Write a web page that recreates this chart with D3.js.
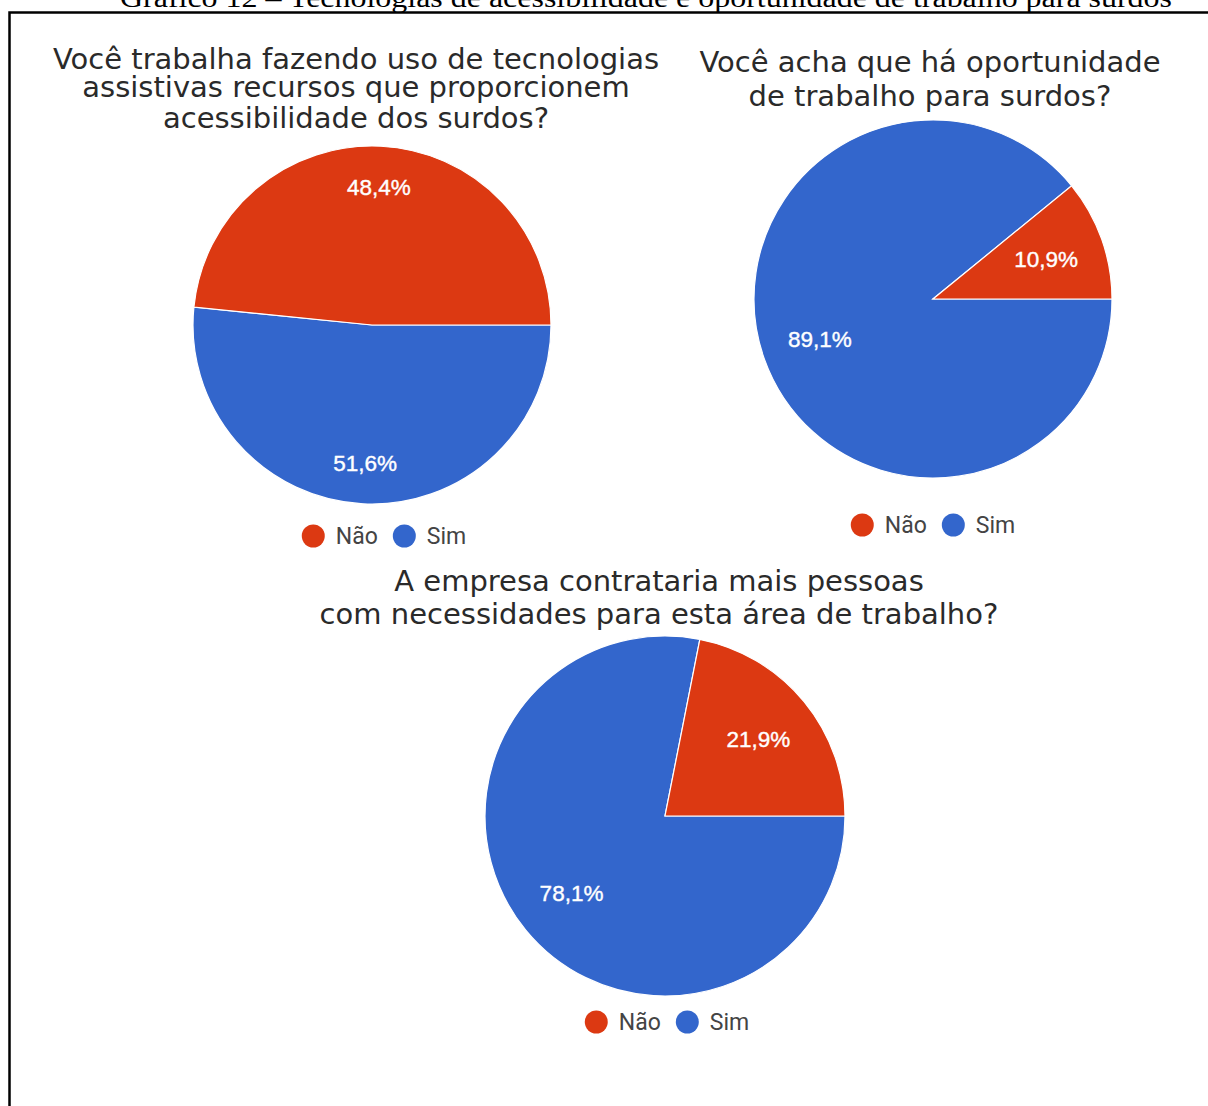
<!DOCTYPE html>
<html>
<head>
<meta charset="utf-8">
<script src="https://cdn.jsdelivr.net/npm/d3@7"></script>
<style>
    body { margin: 0; background: #fff; }
    svg { display: block; }
</style>
</head>
<body>
<div id="chart"></div>
<script>
var ctx = {
    w: 1208,
    h: 1106
};

// data
var caption = "Gráfico 12 – Tecnologias de acessibilidade e oportunidade de trabalho para surdos";
var categories = ["Não", "Sim"];
var colors = ["#dc3912", "#3366cc"];
var questions = [
    ["Você trabalha fazendo uso de tecnologias", "assistivas recursos que proporcionem", "acessibilidade dos surdos?"],
    ["Você acha que há oportunidade", "de trabalho para surdos?"],
    ["A empresa contrataria mais pessoas", "com necessidades para esta área de trabalho?"]
];
var naoValues = [48.4, 10.9, 21.9];
var simValues = [51.6, 89.1, 78.1];

// where each pie goes
var layout = [
    { cx: 372, cy: 325, r: 179, titleX: 356, titleY: [69, 97, 128], labelR: 138, legendX: 384, legendY: 536 },
    { cx: 933, cy: 299, r: 179, titleX: 930, titleY: [72, 106], labelR: 120, legendX: 933, legendY: 525 },
    { cx: 665, cy: 816, r: 180, titleX: 659, titleY: [591, 624], labelR: 121, legendX: 667, legendY: 1022 }
];

var fmt = function (v) {
    return d3.format(".1f")(v).replace(".", ",") + "%";
};

var drawPie = function (svg, i) {
    var L = layout[i];
    // Sim goes clockwise from 3 o'clock, Não fills the rest
    var slices = [
        { name: categories[1], value: simValues[i], color: colors[1] },
        { name: categories[0], value: naoValues[i], color: colors[0] }
    ];
    var pie = d3.pie()
        .sort(null)
        .value(function (d) { return d.value; })
        .startAngle(Math.PI / 2)
        .endAngle(Math.PI / 2 + 2 * Math.PI);
    var arc = d3.arc().innerRadius(0).outerRadius(L.r);
    var labelArc = d3.arc().innerRadius(L.labelR).outerRadius(L.labelR);

    var g = svg.append("g")
        .attr("transform", "translate(" + L.cx + "," + L.cy + ")");

    var arcs = pie(slices);
    g.selectAll("path")
        .data(arcs)
        .enter().append("path")
        .attr("d", arc)
        .style("fill", function (d) { return d.data.color; })
        .style("stroke", "#fff")
        .style("stroke-width", 1.2);

    g.selectAll("text")
        .data(arcs)
        .enter().append("text")
        .attr("transform", function (d) {
            return "translate(" + labelArc.centroid(d) + ")";
        })
        .attr("text-anchor", "middle")
        .attr("dy", "0.36em")
        .style("font-family", "'Liberation Sans', Arial, sans-serif")
        .style("font-size", "22.5px")
        .style("fill", "#fff")
        .style("stroke", "#fff")
        .style("stroke-width", 0.4)
        .text(function (d) { return fmt(d.data.value); });

    // title
    svg.append("g").selectAll("text")
        .data(questions[i])
        .enter().append("text")
        .attr("x", L.titleX)
        .attr("y", function (d, k) { return L.titleY[k]; })
        .attr("text-anchor", "middle")
        .style("font-family", "'DejaVu Sans', sans-serif")
        .style("font-size", "29px")
        .style("fill", "#2a2a2a")
        .text(function (d) { return d; });

    // legend, Não then Sim
    var lg = svg.append("g");
    var x = 0;
    var rDot = 11.5;
    for (var k = 0; k < categories.length; k++) {
        lg.append("circle")
            .attr("cx", x + rDot)
            .attr("cy", 0)
            .attr("r", rDot)
            .style("fill", colors[k]);
        var t = lg.append("text")
            .attr("x", x + rDot * 2 + 11)
            .attr("y", 0)
            .attr("dy", "0.36em")
            .style("font-family", "Roboto, Arial, sans-serif")
            .style("font-size", "23px")
            .style("fill", "#444")
            .text(categories[k]);
        x = x + rDot * 2 + 11 + t.node().getComputedTextLength() + 15;
    }
    var total = x - 15;
    lg.attr("transform", "translate(" + (L.legendX - total / 2) + "," + L.legendY + ")");
};

var createViz = function () {
    var svg = d3.select("#chart").append("svg")
        .attr("width", ctx.w)
        .attr("height", ctx.h);

    svg.append("rect")
        .attr("width", ctx.w)
        .attr("height", ctx.h)
        .style("fill", "#fff");

    // caption above the box, cut by the top of the page
    svg.append("text")
        .attr("x", 646)
        .attr("y", 7)
        .attr("text-anchor", "middle")
        .attr("textLength", 1052)
        .attr("lengthAdjust", "spacingAndGlyphs")
        .style("font-family", "'Liberation Serif', 'Times New Roman', serif")
        .style("font-size", "27px")
        .style("fill", "#000")
        .text(caption);

    // frame
    svg.append("path")
        .attr("d", "M9.5," + ctx.h + "V12.5H" + ctx.w)
        .style("fill", "none")
        .style("stroke", "#000")
        .style("stroke-width", 2.5);

    for (var i = 0; i < layout.length; i++) {
        drawPie(svg, i);
    }
};

createViz();
</script>
</body>
</html>
